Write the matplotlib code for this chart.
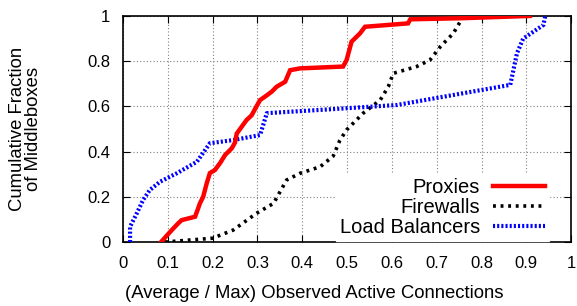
import matplotlib
matplotlib.use("Agg")
import matplotlib.pyplot as plt

plt.rcParams['font.family'] = ['Liberation Sans', 'DejaVu Sans']

# -----------------------
# Data
# -----------------------
proxies_x = [0.085, 0.109, 0.124, 0.131, 0.161, 0.168, 0.172, 0.179, 0.187, 0.194,
             0.205, 0.217, 0.228, 0.243, 0.250, 0.254, 0.265, 0.276, 0.287, 0.298,
             0.306, 0.317, 0.332, 0.343, 0.362, 0.373, 0.395, 0.491, 0.499, 0.510,
             0.529, 0.540, 0.636, 0.641, 0.759, 0.908]
proxies_y = [0.0, 0.053, 0.084, 0.097, 0.112, 0.150, 0.172, 0.200, 0.260, 0.305,
             0.318, 0.350, 0.385, 0.415, 0.440, 0.480, 0.510, 0.540, 0.560, 0.600,
             0.628, 0.643, 0.665, 0.687, 0.709, 0.760, 0.768, 0.776, 0.805, 0.886,
             0.923, 0.952, 0.967, 0.985, 0.990, 1.0]

firewalls_x = [0.094, 0.200, 0.246, 0.298, 0.336, 0.365, 0.395, 0.440, 0.469, 0.484,
               0.499, 0.536, 0.574, 0.592, 0.603, 0.655, 0.685, 0.708, 0.737, 0.760]
firewalls_y = [0.0, 0.017, 0.053, 0.127, 0.171, 0.274, 0.304, 0.333, 0.380, 0.450,
               0.496, 0.570, 0.628, 0.687, 0.746, 0.776, 0.805, 0.864, 0.923, 1.0]

lb_x = [0.016, 0.016, 0.031, 0.045, 0.060, 0.083, 0.120, 0.165, 0.194, 0.246,
        0.306, 0.321, 0.462, 0.611, 0.864, 0.879, 0.893, 0.938, 0.942]
lb_y = [0.0, 0.068, 0.127, 0.186, 0.230, 0.267, 0.304, 0.355, 0.437, 0.451,
        0.473, 0.570, 0.587, 0.606, 0.695, 0.835, 0.900, 0.960, 1.0]

ticks = [0, 0.1, 0.2, 0.3, 0.4, 0.5, 0.6, 0.7, 0.8, 0.9, 1]
tick_labels = ["0", "0.1", "0.2", "0.3", "0.4", "0.5", "0.6", "0.7", "0.8", "0.9", "1"]
yticks = [0, 0.2, 0.4, 0.6, 0.8, 1]
ytick_labels = ["0", "0.2", "0.4", "0.6", "0.8", "1"]

# -----------------------
# Plot
# -----------------------
fig = plt.figure(figsize=(5.77, 3.06), dpi=100)
ax = fig.add_axes([0.213, 0.209, 0.777, 0.739])

ax.plot(proxies_x, proxies_y, color='red', lw=3.2, label="Proxies",
        solid_joinstyle='miter', zorder=4)
ax.plot(firewalls_x, firewalls_y, color='black', lw=2.6, dashes=(0.8, 1.3),
        label="Firewalls", zorder=3)
ax.plot(lb_x, lb_y, color='blue', lw=3.0, dashes=(0.5, 0.5),
        label="Load Balancers", zorder=3)

ax.set_xlim(0, 1)
ax.set_ylim(0, 1)
ax.set_xticks(ticks)
ax.set_xticklabels(tick_labels)
ax.set_yticks(yticks)
ax.set_yticklabels(ytick_labels)
ax.tick_params(direction='in', top=True, right=True, length=5, labelsize=12)
ax.tick_params(axis='x', pad=10)
ax.tick_params(axis='y', pad=9)
ax.grid(True, color='gray', linestyle=(0, (1, 2)), lw=0.8)
for s in ax.spines.values():
    s.set_linewidth(1.2)

ax.set_xlabel("(Average / Max) Observed Active Connections", fontsize=13.3, va='center')
ax.xaxis.set_label_coords(0.427, -0.226)
ax.set_ylabel("Cumulative Fraction\nof Middleboxes", fontsize=13.3, linespacing=0.95,
              va='center', ha='center')
ax.yaxis.set_label_coords(-0.217, 0.5)

leg = ax.legend(loc='lower right', bbox_to_anchor=(0.951, 0.005), frameon=True,
                fontsize=14.5, markerfirst=False, handlelength=2.6,
                handletextpad=0.65, labelspacing=0.05, borderpad=0.2,
                borderaxespad=0, fancybox=False)
leg.get_frame().set_edgecolor('white')
leg.get_frame().set_alpha(1.0)
for t in leg.get_texts():
    t.set_ha('right')

fig.savefig("out.png", dpi=100)
